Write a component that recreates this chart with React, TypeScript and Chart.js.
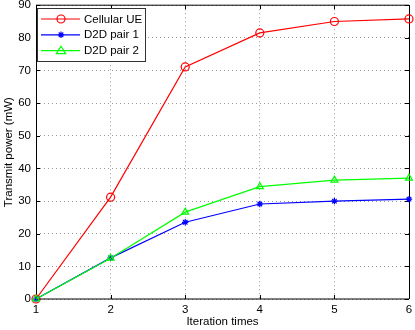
import React, { useEffect, useRef } from 'react';
import { Chart, registerables } from 'chart.js';

Chart.register(...registerables);

const iterations = [1, 2, 3, 4, 5, 6];
const cellularUE = [0, 31.2, 71.1, 81.5, 85.0, 85.8];
const d2dPair1 = [0, 12.6, 23.5, 29.1, 30.0, 30.6];
const d2dPair2 = [0, 12.5, 26.6, 34.4, 36.4, 37.0];
const seriesLabels = ['Cellular UE', 'D2D pair 1', 'D2D pair 2'];
const seriesColors = ['#ff0000', '#0000ff', '#00ff00'];
const seriesMarkers = ['circle', 'star', 'triangle'];
const xLabel = 'Iteration times';
const yLabel = 'Transmit power (mW)';

const FONT = '"Liberation Sans", Arial, Helvetica, sans-serif';

function drawMarker(ctx: CanvasRenderingContext2D, style: string, x: number, y: number, r: number) {
  ctx.beginPath();
  if (style === 'circle') {
    ctx.arc(x, y, r, 0, Math.PI * 2);
  } else if (style === 'triangle') {
    const h = r * 1.5;
    ctx.moveTo(x, y - r * 1.1);
    ctx.lineTo(x + r * 1.15, y + r * 0.75);
    ctx.lineTo(x - r * 1.15, y + r * 0.75);
    ctx.closePath();
    void h;
  } else {
    for (let i = 0; i < 4; i++) {
      const a = (i * Math.PI) / 4;
      ctx.moveTo(x - Math.cos(a) * r, y - Math.sin(a) * r);
      ctx.lineTo(x + Math.cos(a) * r, y + Math.sin(a) * r);
    }
  }
  ctx.stroke();
}

const framePlugin = {
  id: 'frame',
  beforeDatasetsDraw(chart: any) {
    const { ctx, chartArea: a, scales } = chart;
    const xs = scales.x;
    const ys = scales.y;
    ctx.save();
    ctx.strokeStyle = '#000';
    ctx.lineWidth = 1;
    // inward ticks
    ctx.beginPath();
    xs.ticks.forEach((t: any) => {
      const px = Math.round(xs.getPixelForValue(t.value)) + 0.5;
      ctx.moveTo(px, a.bottom);
      ctx.lineTo(px, a.bottom - 4);
      ctx.moveTo(px, a.top);
      ctx.lineTo(px, a.top + 4);
    });
    ys.ticks.forEach((t: any) => {
      const py = Math.round(ys.getPixelForValue(t.value)) + 0.5;
      ctx.moveTo(a.left, py);
      ctx.lineTo(a.left + 4, py);
      ctx.moveTo(a.right, py);
      ctx.lineTo(a.right - 4, py);
    });
    ctx.stroke();
    // box
    ctx.beginPath();
    ctx.moveTo(a.left, a.top);
    ctx.lineTo(a.right, a.top);
    ctx.moveTo(a.left, a.bottom);
    ctx.lineTo(a.right, a.bottom);
    ctx.stroke();
    ctx.beginPath();
    ctx.moveTo(Math.round(a.left) + 0.5, a.top);
    ctx.lineTo(Math.round(a.left) + 0.5, a.bottom);
    ctx.moveTo(Math.round(a.right) + 0.5, a.top);
    ctx.lineTo(Math.round(a.right) + 0.5, a.bottom);
    ctx.stroke();
    ctx.restore();
  },
  afterDraw(chart: any) {
    const { ctx } = chart;
    ctx.save();
    const bx = 37.5, by = 8.5, bw = 108, bh = 53;
    ctx.fillStyle = '#fff';
    ctx.fillRect(bx, by, bw, bh);
    ctx.strokeStyle = '#333';
    ctx.lineWidth = 1;
    ctx.strokeRect(bx, by, bw, bh);
    ctx.font = '11.5px ' + FONT;
    ctx.textBaseline = 'middle';
    ctx.textAlign = 'left';
    chart.data.datasets.forEach((ds: any, i: number) => {
      const yy = 19 + i * 15.8;
      ctx.strokeStyle = ds.borderColor;
      ctx.lineWidth = 1.2;
      ctx.beginPath();
      ctx.moveTo(41, yy);
      ctx.lineTo(80, yy);
      ctx.stroke();
      drawMarker(ctx, seriesMarkers[i], 61, yy, seriesMarkers[i] === 'star' ? 3.2 : 4);
      ctx.fillStyle = '#000';
      ctx.fillText(ds.label, 84, yy + 0.5);
    });
    ctx.restore();
  },
};

export default function App() {
  const ref = useRef<HTMLCanvasElement | null>(null);
  useEffect(() => {
    if (!ref.current) return;
    const series = [cellularUE, d2dPair1, d2dPair2];
    const chart = new Chart(ref.current, {
      type: 'line',
      data: {
        datasets: series.map((vals, i) => ({
          label: seriesLabels[i],
          data: vals.map((v, j) => ({ x: iterations[j], y: v })),
          borderColor: seriesColors[i],
          backgroundColor: 'rgba(0,0,0,0)',
          pointBorderColor: seriesColors[i],
          pointBackgroundColor: 'rgba(0,0,0,0)',
          pointStyle: seriesMarkers[i] as any,
          pointRadius: seriesMarkers[i] === 'star' ? 3.2 : 4,
          pointBorderWidth: 1.2,
          borderWidth: 1.2,
          tension: 0,
          order: 2 - i,
          clip: false as any,
        })),
      },
      options: {
        responsive: false,
        animation: false,
        devicePixelRatio: 1,
        layout: { padding: { top: 4, right: 6, left: 0, bottom: 0 } },
        plugins: { legend: { display: false }, tooltip: { enabled: false } },
        scales: {
          x: {
            type: 'linear',
            min: 1,
            max: 6,
            afterFit: (s: any) => {
              s.height = 31;
              s.paddingLeft = 0;
              s.paddingRight = 0;
            },
            ticks: {
              stepSize: 1,
              color: '#000',
              padding: 4,
              maxRotation: 0,
              font: { family: FONT, size: 11.5 },
            },
            grid: { color: 'rgba(0,0,0,0.4)', drawTicks: false, lineWidth: 1 },
            border: { display: false, dash: [1, 3] },
            title: {
              display: true,
              text: xLabel,
              color: '#000',
              font: { family: FONT, size: 11.5 },
              padding: { top: 0, bottom: 1 },
            },
          },
          y: {
            type: 'linear',
            min: 0,
            max: 90,
            afterFit: (s: any) => {
              s.width = 36;
              s.paddingTop = 0;
              s.paddingBottom = 0;
            },
            ticks: {
              stepSize: 10,
              color: '#000',
              padding: 5,
              font: { family: FONT, size: 11.5 },
            },
            grid: { color: 'rgba(0,0,0,0.4)', drawTicks: false, lineWidth: 1 },
            border: { display: false, dash: [1, 3] },
            title: {
              display: true,
              text: yLabel,
              color: '#000',
              font: { family: FONT, size: 11.5 },
              padding: { top: 2, bottom: 0 },
            },
          },
        },
      },
      plugins: [framePlugin],
    });
    return () => chart.destroy();
  }, []);
  return (
    <div style={{ position: 'absolute', left: 0, top: 0, width: 415, height: 330, background: '#fff' }}>
      <canvas ref={ref} width={415} height={330} style={{ display: 'block' }} />
    </div>
  );
}
